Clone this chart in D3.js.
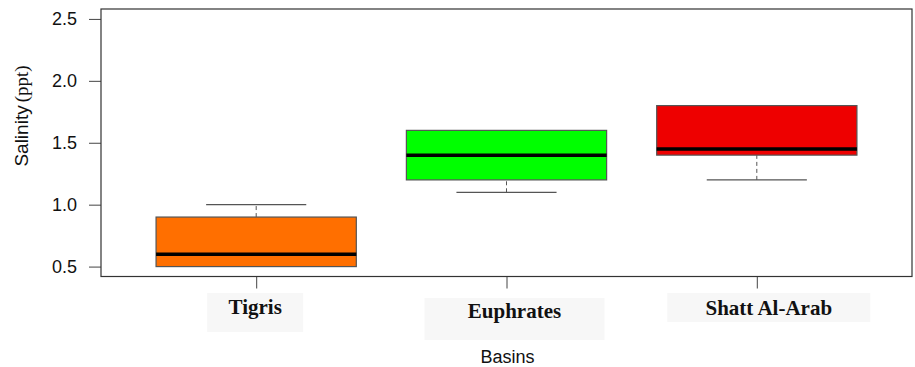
<!DOCTYPE html>
<html>
<head>
<meta charset="utf-8">
<script src="https://cdn.jsdelivr.net/npm/d3@7/dist/d3.min.js"></script>
<style>
  html, body { margin: 0; padding: 0; background: #fff; }
  svg { display: block; }
</style>
</head>
<body>
<svg id="chart" width="915" height="367"></svg>
<script>
// Salinity summary per basin (ppt)
const basins = ["Tigris", "Euphrates", "Shatt Al-Arab"];
const whiskerLow = [0.5, 1.1, 1.2];
const q1 = [0.5, 1.2, 1.4];
const median = [0.6, 1.4, 1.45];
const q3 = [0.9, 1.6, 1.8];
const whiskerHigh = [1.0, 1.6, 1.8];
const yTicks = [0.5, 1.0, 1.5, 2.0, 2.5];

// Styling
const boxFills = ["#ff6f00", "#00ff00", "#ee0000"];
const plot = { left: 101, right: 912, top: 9, bottom: 276.5 };
// Category label plates (offsets relative to each category centre)
const plates = [
  { dx: -1, top: 293, w: 96, h: 39, base: 313.5 },
  { dx: 8, top: 298, w: 180, h: 42, base: 317.5 },
  { dx: 12, top: 293, w: 203, h: 29, base: 315 }
];

const svg = d3.select("#chart");

const x = d3.scaleLinear()
  .domain([0.38, basins.length + 0.62])
  .range([plot.left, plot.right]);
const y = d3.scaleLinear()
  .domain([0.42, 2.58])
  .range([plot.bottom, plot.top]);

const boxW = 0.8, capW = 0.4;

// y axis
const yAxis = svg.append("g")
  .attr("transform", `translate(${plot.left},0)`)
  .call(d3.axisLeft(y).tickValues(yTicks).tickFormat(d3.format(".1f"))
    .tickSize(12).tickPadding(12));
yAxis.select(".domain").remove();
yAxis.selectAll(".tick line").attr("stroke", "#444");
yAxis.selectAll(".tick text")
  .attr("fill", "#111")
  .style("font-family", "Liberation Sans, Arial, sans-serif")
  .style("font-size", "18px");

// x axis
const xAxis = svg.append("g")
  .attr("transform", `translate(0,${plot.bottom})`)
  .call(d3.axisBottom(x).tickValues(basins.map((_, i) => i + 1))
    .tickFormat("").tickSize(12));
xAxis.select(".domain").remove();
xAxis.selectAll(".tick line").attr("stroke", "#444");

// Boxes
const g = svg.append("g");
basins.forEach((name, i) => {
  const c = i + 1;
  // whiskers (dashed stems)
  [[q3[i], whiskerHigh[i]], [whiskerLow[i], q1[i]]].forEach(([a, b]) => {
    if (b > a) {
      g.append("line")
        .attr("x1", x(c)).attr("x2", x(c))
        .attr("y1", y(a)).attr("y2", y(b))
        .attr("stroke", "#555").attr("stroke-width", 1)
        .attr("stroke-dasharray", "4,3");
    }
  });
  // staples
  [whiskerLow[i], whiskerHigh[i]].forEach((v, k) => {
    const edge = k === 0 ? q1[i] : q3[i];
    if (v !== edge) {
      g.append("line")
        .attr("x1", x(c - capW / 2)).attr("x2", x(c + capW / 2))
        .attr("y1", y(v)).attr("y2", y(v))
        .attr("stroke", "#555").attr("stroke-width", 1.2);
    }
  });
  g.append("rect")
    .attr("x", x(c - boxW / 2))
    .attr("y", y(q3[i]))
    .attr("width", x(c + boxW / 2) - x(c - boxW / 2))
    .attr("height", y(q1[i]) - y(q3[i]))
    .attr("fill", boxFills[i])
    .attr("stroke", "#555").attr("stroke-width", 1.2);
  g.append("line")
    .attr("x1", x(c - boxW / 2)).attr("x2", x(c + boxW / 2))
    .attr("y1", y(median[i])).attr("y2", y(median[i]))
    .attr("stroke", "#000").attr("stroke-width", 3.5);
});

// plot frame
svg.append("rect")
  .attr("x", plot.left).attr("y", plot.top)
  .attr("width", plot.right - plot.left)
  .attr("height", plot.bottom - plot.top)
  .attr("fill", "none").attr("stroke", "#333").attr("stroke-width", 1.2);

// Category labels on light plates
basins.forEach((name, i) => {
  const p = plates[i];
  const cx = x(i + 1) + p.dx;
  svg.append("rect")
    .attr("x", cx - p.w / 2).attr("y", p.top)
    .attr("width", p.w).attr("height", p.h)
    .attr("fill", "#f7f7f7");
  svg.append("text")
    .attr("x", cx).attr("y", p.base)
    .attr("text-anchor", "middle")
    .attr("fill", "#111")
    .style("font-family", "Liberation Serif, 'Times New Roman', serif")
    .style("font-weight", "bold")
    .style("font-size", "21px")
    .text(name);
});

// Axis titles
svg.append("text")
  .attr("x", (plot.left + plot.right) / 2 + 1).attr("y", 363)
  .attr("text-anchor", "middle")
  .attr("fill", "#111")
  .style("font-family", "Liberation Sans, Arial, sans-serif")
  .style("font-size", "18px")
  .text("Basins");

const yt = svg.append("text")
  .attr("transform", "translate(28,116) rotate(-90)")
  .attr("text-anchor", "middle")
  .attr("fill", "#111")
  .style("font-size", "19px");
yt.append("tspan")
  .style("font-family", "Liberation Sans, Arial, sans-serif")
  .text("Salinity");
yt.append("tspan")
  .attr("dx", 3)
  .style("font-family", "Liberation Serif, 'Times New Roman', serif")
  .text("(ppt)");
</script>
</body>
</html>
